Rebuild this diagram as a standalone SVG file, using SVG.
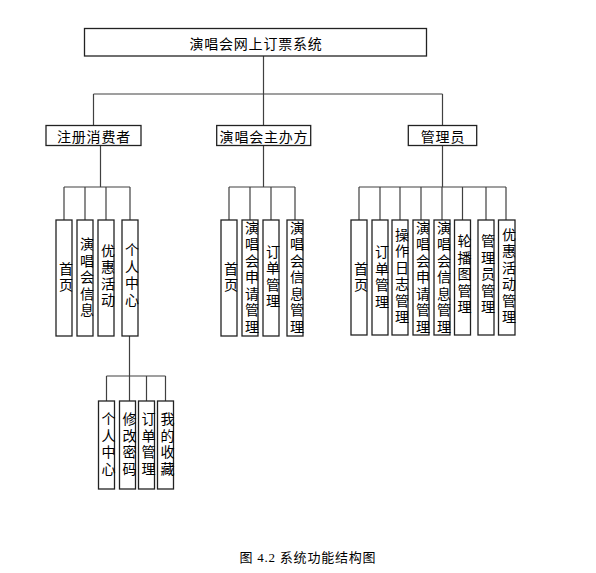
<svg xmlns="http://www.w3.org/2000/svg" width="596" height="573" viewBox="0 0 596 573">
<style>
.box{fill:#fff;stroke:#222;stroke-width:1.3}
.ln{fill:none;stroke:#404040;stroke-width:1.2}
.t{font-family:"Noto Sans CJK SC","Liberation Sans",sans-serif;font-size:14px;fill:#000;text-anchor:middle;dominant-baseline:central;letter-spacing:0.8px}
.v{font-family:"Noto Sans CJK SC","Liberation Sans",sans-serif;font-size:14px;fill:#000;text-anchor:middle;writing-mode:vertical-rl;letter-spacing:2.5px}
.cap{font-family:"Liberation Serif","Noto Sans CJK SC",serif;font-size:13px;fill:#000;text-anchor:middle}
</style>
<rect width="596" height="573" fill="#fff"/>
<g id="connectors">
<path class="ln" d="M263.5 56V94M93.5 94H442.5M93.5 94V125M263.5 94V125M442.5 94V125"/>
<path class="ln" d="M100.5 145.5V187M64 187H130M64 187V220M85 187V220M106 187V220M130 187V220"/>
<path class="ln" d="M263.5 145.5V187M229 187H295M229 187V220M250 187V220M271 187V220M295 187V220"/>
<path class="ln" d="M442.5 145.5V187M359 187H506M359 187V220M380 187V220M400 187V220M421 187V220M442 187V220M462.5 187V220M486 187V220M506 187V220"/>
<path class="ln" d="M129.5 336V376M106.5 376H165.5M106.5 376V401M129.5 376V401M146.5 376V401M165.5 376V401"/>
</g>
<g id="root"><rect class="box" x="84.5" y="28.5" width="342" height="27.5"/><text class="t" x="256" y="43" letter-spacing="1.2">演唱会网上订票系统</text></g>
<g id="consumer"><rect class="box" x="46" y="125.5" width="95" height="20"/><text class="t" x="94" y="135.5">注册消费者</text></g>
<g id="organizer"><rect class="box" x="216.7" y="125.5" width="94" height="20"/><text class="t" x="264" y="135.5">演唱会主办方</text></g>
<g id="admin"><rect class="box" x="408.3" y="125.5" width="68.4" height="20"/><text class="t" x="443" y="135.5">管理员</text></g>

<g id="c1"><rect class="box" x="56" y="220" width="16" height="116"/><text class="v" x="66" y="278">首页</text></g>
<g id="c2"><rect class="box" x="77" y="220" width="16" height="116"/><text class="v" x="87" y="278">演唱会信息</text></g>
<g id="c3"><rect class="box" x="98" y="220" width="16" height="116"/><text class="v" x="108" y="276.5">优惠活动</text></g>
<g id="c4"><rect class="box" x="122" y="220" width="16" height="116"/><text class="v" x="132" y="276">个人中心</text></g>

<g id="o1"><rect class="box" x="221" y="220" width="16" height="116"/><text class="v" x="231" y="278">首页</text></g>
<g id="o2"><rect class="box" x="242" y="220" width="16" height="116"/><text class="v" x="252" y="278">演唱会申请管理</text></g>
<g id="o3"><rect class="box" x="263" y="220" width="16" height="116"/><text class="v" x="273" y="277.5">订单管理</text></g>
<g id="o4"><rect class="box" x="287" y="220" width="16" height="116"/><text class="v" x="297" y="278">演唱会信息管理</text></g>

<g id="a1"><rect class="box" x="351" y="220" width="16" height="115"/><text class="v" x="361" y="278">首页</text></g>
<g id="a2"><rect class="box" x="372" y="220" width="16" height="115"/><text class="v" x="382" y="278">订单管理</text></g>
<g id="a3"><rect class="box" x="392" y="220" width="16" height="115"/><text class="v" x="402" y="277">操作日志管理</text></g>
<g id="a4"><rect class="box" x="413" y="220" width="16" height="115"/><text class="v" x="423" y="278">演唱会申请管理</text></g>
<g id="a5"><rect class="box" x="434" y="220" width="16" height="115"/><text class="v" x="444" y="278">演唱会信息管理</text></g>
<g id="a6"><rect class="box" x="454.5" y="220" width="16" height="115"/><text class="v" x="464.5" y="275">轮播图管理</text></g>
<g id="a7"><rect class="box" x="478" y="220" width="16" height="115"/><text class="v" x="488" y="275">管理员管理</text></g>
<g id="a8"><rect class="box" x="498.5" y="220" width="16.5" height="115"/><text class="v" x="509" y="277">优惠活动管理</text></g>

<g id="g1"><rect class="box" x="98.5" y="401" width="16" height="88"/><text class="v" x="108.5" y="445">个人中心</text></g>
<g id="g2"><rect class="box" x="119.5" y="401" width="16" height="88"/><text class="v" x="129.5" y="445">修改密码</text></g>
<g id="g3"><rect class="box" x="138.5" y="401" width="16" height="88"/><text class="v" x="148.5" y="445">订单管理</text></g>
<g id="g4"><rect class="box" x="157.5" y="401" width="16" height="88"/><text class="v" x="167.5" y="445">我的收藏</text></g>

<text class="cap" x="307.5" y="562" textLength="136" lengthAdjust="spacing">图 4.2 系统功能结构图</text>
</svg>
